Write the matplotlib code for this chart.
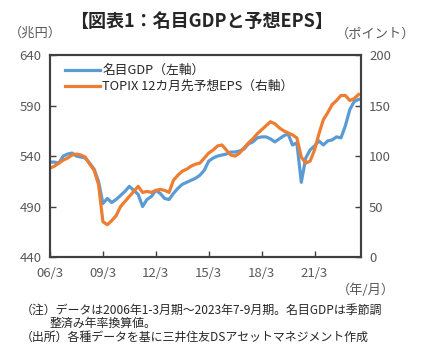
import numpy as np
from matplotlib import pyplot as plt

plt.rcParams['font.family'] = ['Noto Sans CJK JP', 'DejaVu Sans']

# 2006Q1 .. 2023Q3, quarterly
gdp = [534, 534, 533, 540, 542, 543, 540, 539, 538, 533, 527, 515,
       493, 498, 494, 497, 501, 505, 510, 506, 502, 490, 497, 500,
       506, 503, 498, 497, 503, 508, 512, 514, 516, 518, 521, 526,
       535, 538, 540, 541, 542, 544, 544, 545, 547, 552, 554, 558,
       559, 559, 557, 554, 557, 560, 562, 551, 553, 514, 538, 546,
       550, 555, 551, 555, 556, 559, 558, 570, 586, 594, 596]
eps = [88, 90, 93, 96, 98, 101, 102, 101, 99, 92, 86, 72,
       35, 32, 36, 41, 50, 55, 60, 65, 70, 64, 65, 64,
       66, 67, 66, 64, 76, 81, 85, 87, 90, 92, 93, 98,
       103, 106, 110, 111, 106, 101, 100, 103, 108, 113, 117, 122,
       126, 130, 134, 132, 128, 125, 123, 121, 118, 99, 93, 95,
       106, 122, 136, 143, 151, 155, 160, 160, 155, 157, 161]
tick_pos = [0, 12, 24, 36, 48, 60]
tick_labels = ['06/3', '09/3', '12/3', '15/3', '18/3', '21/3']

blue = '#5B9BD5'
orange = '#ED7D31'
grey = '#595959'
x = np.arange(len(gdp))

fig = plt.figure(figsize=(4.22, 3.6), dpi=100)
ax = fig.add_axes([0.1185, 0.286, 0.7365, 0.561])
ax2 = ax.twinx()

l1, = ax.plot(x, gdp, color=blue, lw=2.3, label='名目GDP（左軸）')
l2, = ax2.plot(x, eps, color=orange, lw=2.3, label='TOPIX 12カ月先予想EPS（右軸）')

ax.set_xlim(0, 70.5)
ax.set_ylim(440, 640)
ax.set_yticks([440, 490, 540, 590, 640])
ax2.set_ylim(0, 200)
ax2.set_yticks([0, 50, 100, 150, 200])
ax.set_xticks(tick_pos)
ax.set_xticklabels(tick_labels)

for a in (ax, ax2):
    a.tick_params(direction='in', length=4, width=1, color='#404040',
                  labelsize=9.5, labelcolor=grey, pad=6)
    for s in a.spines.values():
        s.set_color('#404040')
        s.set_linewidth(1.5)
ax.tick_params(axis='x', pad=7)

ax2.legend(handles=[l1, l2], loc='upper left', bbox_to_anchor=(0.02, 1.0),
           frameon=False, fontsize=9.2, handlelength=2.7, handletextpad=0.2,
           labelspacing=0.25, borderaxespad=0.3, labelcolor='#262626')

fig.text(0.478, 0.94, '【図表1：名目GDPと予想EPS】', ha='center', va='center',
         fontsize=13, fontweight='bold', color='#262626')
fig.text(0.02, 0.908, '（兆円）', ha='left', va='center', fontsize=9.5, color=grey)
fig.text(0.985, 0.905, '（ポイント）', ha='right', va='center', fontsize=9.5, color=grey)
fig.text(0.935, 0.195, '（年/月）', ha='right', va='center', fontsize=9.5, color=grey)

note_color = '#262626'
fig.text(0.05, 0.138, '（注）データは2006年1-3月期～2023年7-9月期。名目GDPは季節調',
         ha='left', va='center', fontsize=8.6, color=note_color)
fig.text(0.118, 0.103, '整済み年率換算値。', ha='left', va='center',
         fontsize=8.6, color=note_color)
fig.text(0.05, 0.063, '（出所）各種データを基に三井住友DSアセットマネジメント作成',
         ha='left', va='center', fontsize=8.6, color=note_color)

fig.savefig('out.png', dpi=100)
